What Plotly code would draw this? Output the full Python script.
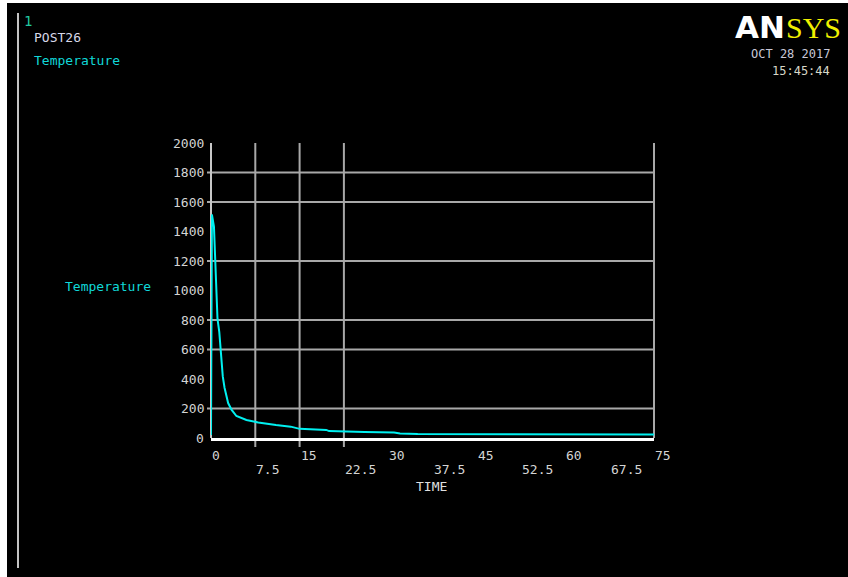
import plotly.graph_objects as go

# ---------------- data ----------------
time_s = [0, 0.05, 0.15, 0.5, 0.8, 1.1, 1.4, 1.7, 2.0, 2.3, 2.6, 2.9, 3.5, 4.3, 6.0,
          8.0, 11.0, 13.5, 15.0, 19.5, 20.0, 22.5, 26.0, 31.0, 32.0, 35.0, 50.0, 75.0]
temperature = [20, 1356, 1515, 1433, 1112, 807, 720, 529, 416, 339, 292, 237, 190, 149, 122,
               105, 88, 77, 62, 55, 47, 42, 40, 37, 31, 27, 25, 24]

y_tick_values = [0, 200, 400, 600, 800, 1000, 1200, 1400, 1600, 1800, 2000]
y_tick_labels = ["0", "200", "400", "600", "800", "1000", "1200", "1400", "1600", "1800", "2000"]
x_tick_row1 = [0, 15, 30, 45, 60, 75]
x_tick_row1_labels = ["0", "15", "30", "45", "60", "75"]
x_tick_row2 = [7.5, 22.5, 37.5, 52.5, 67.5]
x_tick_row2_labels = ["7.5", "22.5", "37.5", "52.5", "67.5"]
y_grid_values = [200, 600, 800, 1200, 1600, 1800]
x_grid_values = [7.5, 15, 22.5]

# ---------------- layout geometry (pixels) ----------------
W, H = 848, 577
L, R, T, B = 211, 654, 143, 438
PW, PH = R - L, B - T


def px(x):
    return (x - L) / PW


def py(y):
    return (B - y) / PH


MONO = "DejaVu Sans Mono, Liberation Mono, monospace"
FS = 13
LABEL = "#d4d4d4"
CYAN = "#00f0f0"
GRID = "#a8a8a8"

fig = go.Figure()
fig.add_trace(go.Scatter(x=time_s, y=temperature, mode="lines",
                         line=dict(color=CYAN, width=2), hoverinfo="skip"))

shapes = []
# white strips at left and top of the picture
shapes.append(dict(type="rect", xref="paper", yref="paper", x0=px(0), x1=px(7),
                   y0=py(0), y1=py(H), fillcolor="white", line=dict(width=0), layer="above"))
shapes.append(dict(type="rect", xref="paper", yref="paper", x0=px(0), x1=px(W),
                   y0=py(0), y1=py(3), fillcolor="white", line=dict(width=0), layer="above"))
# left decorative vertical line
shapes.append(dict(type="line", xref="paper", yref="paper", x0=px(18), x1=px(18),
                   y0=py(13), y1=py(568), line=dict(color="#c4c4c4", width=2)))
# horizontal grid lines
for v in y_grid_values:
    shapes.append(dict(type="line", xref="paper", yref="y", x0=px(207), x1=1, y0=v, y1=v,
                       line=dict(color=GRID, width=2), layer="below"))
# vertical grid lines
for v in x_grid_values:
    shapes.append(dict(type="line", xref="x", yref="paper", x0=v, x1=v, y0=py(447), y1=1,
                       line=dict(color=GRID, width=2), layer="below"))
# right border
shapes.append(dict(type="line", xref="paper", yref="paper", x0=1, x1=1, y0=0, y1=1,
                   line=dict(color=GRID, width=2), layer="below"))
# left axis
shapes.append(dict(type="line", xref="paper", yref="paper", x0=0, x1=0, y0=0, y1=1,
                   line=dict(color="#c8c8c8", width=2), layer="below"))

ann = []
# y tick labels
for v, t in zip(y_tick_values, y_tick_labels):
    ann.append(dict(x=px(206), y=v, xref="paper", yref="y", text=t, showarrow=False,
                    xanchor="right", yanchor="middle",
                    font=dict(family=MONO, size=FS, color=LABEL)))
# x tick labels, staggered rows
for v, t in zip(x_tick_row1, x_tick_row1_labels):
    ann.append(dict(x=v, y=py(455), xref="x", yref="paper", text=t, showarrow=False,
                    xanchor="left", yanchor="middle", xshift=-1,
                    font=dict(family=MONO, size=FS, color=LABEL)))
for v, t in zip(x_tick_row2, x_tick_row2_labels):
    ann.append(dict(x=v, y=py(469.5), xref="x", yref="paper", text=t, showarrow=False,
                    xanchor="left", yanchor="middle", xshift=-1,
                    font=dict(family=MONO, size=FS, color=LABEL)))
# axis titles
ann.append(dict(x=px(431), y=py(486), xref="paper", yref="paper", text="TIME",
                showarrow=False, xanchor="center", yanchor="middle",
                font=dict(family=MONO, size=FS, color="#e0e0e0")))
ann.append(dict(x=px(153), y=py(286), xref="paper", yref="paper", text="Temperature",
                showarrow=False, xanchor="right", yanchor="middle",
                font=dict(family=MONO, size=FS, color="#10d8d8")))
# top-left texts
ann.append(dict(x=px(22), y=py(21), xref="paper", yref="paper", text="1",
                showarrow=False, xanchor="left", yanchor="middle",
                font=dict(family=MONO, size=FS + 1, color="#20c8a0")))
ann.append(dict(x=px(32), y=py(37.5), xref="paper", yref="paper", text="POST26",
                showarrow=False, xanchor="left", yanchor="middle",
                font=dict(family=MONO, size=FS, color="#d8d8e8")))
ann.append(dict(x=px(32), y=py(60.5), xref="paper", yref="paper", text="Temperature",
                showarrow=False, xanchor="left", yanchor="middle",
                font=dict(family=MONO, size=FS, color="#10d8d8")))
# ANSYS logo
ann.append(dict(x=px(733), y=py(27), xref="paper", yref="paper", text="<b>AN</b>",
                showarrow=False, xanchor="left", yanchor="middle",
                font=dict(family="DejaVu Sans", size=31, color="white")))
ann.append(dict(x=px(784), y=py(27.5), xref="paper", yref="paper", text="SYS",
                showarrow=False, xanchor="left", yanchor="middle",
                font=dict(family="Liberation Serif, serif", size=30, color="#f0f000")))
ann.append(dict(x=px(832), y=py(53.5), xref="paper", yref="paper", text="OCT 28 2017",
                showarrow=False, xanchor="right", yanchor="middle",
                font=dict(family=MONO, size=FS - 1, color="#c8c8d8")))
ann.append(dict(x=px(832), y=py(70.5), xref="paper", yref="paper", text="15:45:44",
                showarrow=False, xanchor="right", yanchor="middle",
                font=dict(family=MONO, size=FS - 1, color="#d8d8c8")))

fig.update_layout(
    width=W, height=H, autosize=False,
    margin=dict(l=L, r=W - R, t=T, b=H - B, pad=0),
    paper_bgcolor="black", plot_bgcolor="black",
    showlegend=False,
    shapes=shapes, annotations=ann,
    xaxis=dict(range=[0, 75], showgrid=False, zeroline=False, showticklabels=False,
               ticks="", showline=True, linecolor="white", linewidth=3),
    yaxis=dict(range=[0, 2000], showgrid=False, zeroline=False, showticklabels=False,
               ticks="", showline=False),
)

fig.write_html(
    "out.html",
    config={"displayModeBar": False},
    post_script="document.body.style.margin='0';document.body.style.padding='0';"
                "document.body.style.overflow='hidden';",
)
